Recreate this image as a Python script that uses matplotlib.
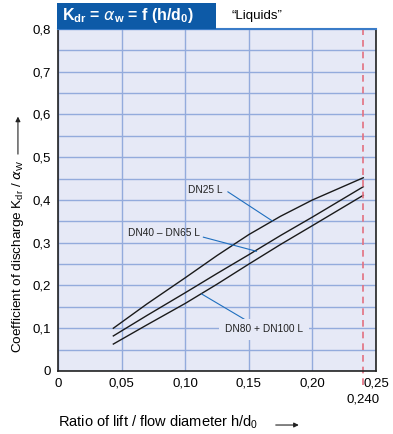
import numpy as np
import matplotlib
matplotlib.use('Agg')
import matplotlib.pyplot as plt
from matplotlib.patches import Rectangle
from matplotlib.ticker import FuncFormatter, MultipleLocator

plt.rcParams['font.family'] = ['Liberation Sans', 'DejaVu Sans']
plt.rcParams['mathtext.fontset'] = 'custom'
plt.rcParams['mathtext.rm'] = 'Liberation Sans'
plt.rcParams['mathtext.bf'] = 'Liberation Sans:bold'

# curves
x_dn25 = [0.0435, 0.07, 0.10, 0.125, 0.15, 0.175, 0.20, 0.24]
y_dn25 = [0.100, 0.157, 0.218, 0.270, 0.319, 0.362, 0.400, 0.452]
x_dn40 = [0.0435, 0.07, 0.10, 0.125, 0.15, 0.175, 0.20, 0.24]
y_dn40 = [0.082, 0.130, 0.183, 0.228, 0.272, 0.317, 0.360, 0.431]
x_dn80 = [0.0435, 0.07, 0.10, 0.125, 0.15, 0.175, 0.20, 0.24]
y_dn80 = [0.063, 0.108, 0.158, 0.203, 0.250, 0.296, 0.340, 0.411]

labels = ['DN25 L', 'DN40 \u2013 DN65 L', 'DN80 + DN100 L']
label_pos = [(0.116, 0.423), (0.083, 0.322), (0.162, 0.098)]
pointer_from = [(0.1336, 0.419), (0.1143, 0.313), (0.113, 0.180)]
pointer_to = [(0.1685, 0.351), (0.156, 0.280), (0.1465, 0.121)]

x_mark = 0.240

bg = '#e6e9f6'
grid_c = '#93abdc'
blue = '#0d5aa7'

fig = plt.figure(figsize=(3.93, 4.34), dpi=100)
ax = fig.add_axes([0.1476, 0.1452, 0.8091, 0.7880])
ax.set_facecolor(bg)
ax.set_xlim(0, 0.25)
ax.set_ylim(0, 0.8)
ax.xaxis.set_major_locator(MultipleLocator(0.05))
ax.yaxis.set_major_locator(MultipleLocator(0.1))
ax.yaxis.set_minor_locator(MultipleLocator(0.05))
ax.grid(True, which='both', color=grid_c, lw=1.0)
ax.set_axisbelow(True)
ax.tick_params(which='both', length=0, labelsize=9.5, pad=5)

ax.xaxis.set_major_formatter(FuncFormatter(lambda v, p: '0' if v == 0 else ('%.2f' % v).replace('.', ',')))
ax.yaxis.set_major_formatter(FuncFormatter(lambda v, p: '0' if v == 0 else ('%.1f' % v).replace('.', ',')))

for s in ['left', 'bottom', 'right']:
    ax.spines[s].set_color('#222222')
    ax.spines[s].set_linewidth(1.2)
ax.spines['top'].set_color('#3a7cc8')
ax.spines['top'].set_linewidth(1.5)

for xs, ys in [(x_dn25, y_dn25), (x_dn40, y_dn40), (x_dn80, y_dn80)]:
    ax.plot(xs, ys, color='#1a1a1a', lw=1.0)

for lab, pos, p0, p1 in zip(labels, label_pos, pointer_from, pointer_to):
    ax.plot([p0[0], p1[0]], [p0[1], p1[1]], color='#1f6fbf', lw=0.8)
    bbox = None
    if lab.startswith('DN80'):
        bbox = dict(facecolor=bg, edgecolor='none', pad=4)
    ax.text(pos[0], pos[1], lab, fontsize=7.3, ha='center', va='center', color='#222222', bbox=bbox)

ax.axvline(x_mark, ymin=-0.041, ymax=1, color='#e37080', lw=1.2, ls=(0, (4, 3)), clip_on=False)
ax.text(x_mark, -0.082, '0,240', ha='center', va='center', fontsize=9.5, transform=ax.get_xaxis_transform())

# title box
ax.add_patch(Rectangle((-0.004, 1.0), 0.501, 0.077, transform=ax.transAxes, facecolor=blue,
                       edgecolor='none', clip_on=False, zorder=5))
ax.text(0.012, 1.038, r'K$_{\mathbf{dr}}$ = $\alpha_{\mathbf{w}}$ = f (h/d$_{\mathbf{0}}$)', transform=ax.transAxes,
        color='white', fontsize=11.5, fontweight='bold', va='center', ha='left', zorder=6)
ax.text(0.545, 1.038, '\u201cLiquids\u201d', transform=ax.transAxes, fontsize=9.5, va='center', ha='left')

# axis titles with separate arrows
ax.text(-0.126, 0.335, r'Coefficient of discharge K$_{\rm dr}$ / $\alpha_{\rm W}$', transform=ax.transAxes,
        rotation=90, ha='center', va='center', fontsize=9.7)
ax.annotate('', xy=(-0.126, 0.752), xytext=(-0.126, 0.626), xycoords='axes fraction',
            arrowprops=dict(arrowstyle='-|>', lw=0.8, color='#222222', mutation_scale=7), annotation_clip=False)
ax.text(0.0, -0.149, r'Ratio of lift / flow diameter h/d$_0$', transform=ax.transAxes,
        ha='left', va='center', fontsize=10.5)
ax.annotate('', xy=(0.766, -0.158), xytext=(0.676, -0.158), xycoords='axes fraction',
            arrowprops=dict(arrowstyle='-|>', lw=0.8, color='#222222', mutation_scale=7), annotation_clip=False)

fig.savefig('out.png', dpi=100)
